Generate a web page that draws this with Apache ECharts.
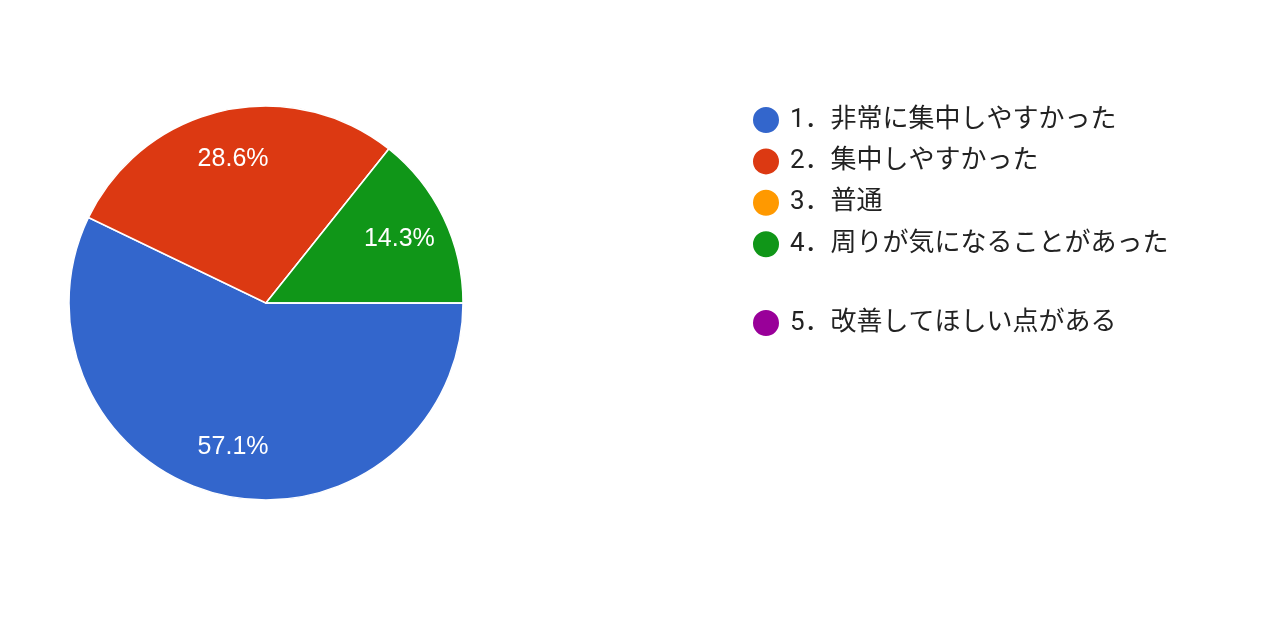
<!DOCTYPE html>
<html><head><meta charset="utf-8">
<script src="https://cdn.jsdelivr.net/npm/echarts@6/dist/echarts.min.js"></script>
<style>html,body{margin:0;padding:0;background:#fff;}#c{width:1280px;height:640px;}</style>
</head><body><div id="c"></div>
<script>
const categories = ['1．非常に集中しやすかった','2．集中しやすかった','3．普通','4．周りが気になることがあった','5．改善してほしい点がある'];
const counts = [4, 2, 0, 1, 0];
const colors = ['#3366cc','#dc3912','#ff9900','#109618','#990099'];

const data = categories.map((n,i)=>({name:n, value:counts[i], itemStyle:{color:colors[i]}}));
const chart = echarts.init(document.getElementById('c'));
const legendText = {fontSize:26, color:'#222', fontFamily:'Roboto, "Noto Sans CJK JP", sans-serif', lineHeight:27, padding:[0,0,0,5]};
chart.setOption({
  animation:false,
  legend:[
    {orient:'vertical', left:751, top:105, padding:0, icon:'circle', itemWidth:28, itemHeight:28, itemGap:11.4,
     data:categories.slice(0,4), textStyle:legendText, selectedMode:false},
    {orient:'vertical', left:751, top:308, padding:0, icon:'circle', itemWidth:28, itemHeight:28, itemGap:11.4,
     data:categories.slice(4), textStyle:legendText, selectedMode:false}
  ],
  series:[
    {type:'pie', center:[266,303], radius:[0,197], startAngle:0, clockwise:true,
     data:data, label:{show:false}, labelLine:{show:false},
     itemStyle:{borderColor:'#fff', borderWidth:1.5}, silent:true},
    {type:'pie', center:[266,303], radius:[93,197], startAngle:0, clockwise:true,
     data:data.map(d=>({name:d.name, value:d.value, itemStyle:{color:'rgba(0,0,0,0)'}})),
     legendHoverLink:false, silent:true, z:3,
     label:{show:true, position:'inside', color:'#fff', fontSize:25, fontFamily:'"Liberation Sans", Arial, sans-serif',
       formatter:p=>p.value>0?(p.percent.toFixed(1)+'%'):''},
     labelLine:{show:false}, itemStyle:{borderWidth:0}}
  ]
});
</script></body></html>
